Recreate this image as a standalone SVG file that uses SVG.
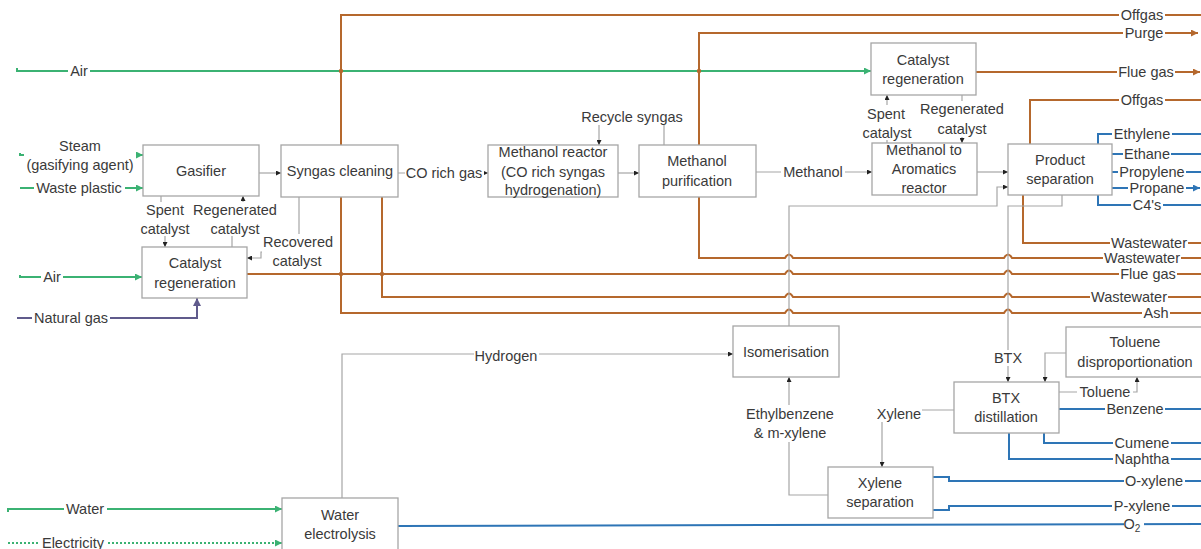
<svg xmlns="http://www.w3.org/2000/svg" width="1201" height="549" viewBox="0 0 1201 549">
<style>
text{font-family:"Liberation Sans",Arial,sans-serif;font-size:14.5px;fill:#3a3a3a;text-anchor:middle}
.nd rect{fill:#fff;stroke:#a6a6a6;stroke-width:1.3}
.g{fill:none;stroke:#a6a6a6;stroke-width:1.2}
.br{fill:none;stroke:#b5682d;stroke-width:2}
.gr{fill:none;stroke:#3bb273;stroke-width:2}
.bl{fill:none;stroke:#2e75b6;stroke-width:2}
.pu{fill:none;stroke:#605b8c;stroke-width:2}
.bg{fill:#fff}
</style>
<defs>
<marker id="ak" viewBox="0 0 6 6" refX="6" refY="3" markerWidth="5" markerHeight="5" markerUnits="userSpaceOnUse" orient="auto"><path d="M0,0L6,3L0,6z" fill="#222"/></marker>
<marker id="ag" viewBox="0 0 6 6" refX="6" refY="3" markerWidth="7" markerHeight="7" markerUnits="userSpaceOnUse" orient="auto"><path d="M0,0L6,3L0,6z" fill="#3bb273"/></marker>
<marker id="ab" viewBox="0 0 6 6" refX="6" refY="3" markerWidth="7" markerHeight="7" markerUnits="userSpaceOnUse" orient="auto"><path d="M0,0L6,3L0,6z" fill="#b5682d"/></marker>
<marker id="abl" viewBox="0 0 6 6" refX="6" refY="3" markerWidth="7" markerHeight="7" markerUnits="userSpaceOnUse" orient="auto"><path d="M0,0L6,3L0,6z" fill="#2e75b6"/></marker>
<marker id="ap" viewBox="0 0 6 6" refX="6" refY="3" markerWidth="8" markerHeight="8" markerUnits="userSpaceOnUse" orient="auto"><path d="M0,0L6,3L0,6z" fill="#605b8c"/></marker>
</defs>
<rect width="1201" height="549" fill="#fff"/>
<g id="connectors">
<!-- brown -->
<path class="br" d="M341,145V15H1201"/>
<path class="br" d="M341,197V313H785q4,-7 8,0H1004q4,-7 8,0H1201"/>
<path class="br" d="M382,197V297H785q4,-7 8,0H1004q4,-7 8,0H1201"/>
<path class="br" d="M247,274H785q4,-7 8,0H1004q4,-7 8,0H1201"/>
<path class="br" d="M699,145V33H1198" marker-end="url(#ab)"/>
<path class="br" d="M699,197V258H785q4,-7 8,0H1004q4,-7 8,0H1201"/>
<path class="br" d="M976,72H1200" marker-end="url(#ab)"/>
<path class="br" d="M1030,144V100H1201"/>
<path class="br" d="M1023,195V243H1201"/>
<!-- green -->
<path class="gr" d="M17,68V71H871" marker-end="url(#ag)"/>
<path class="gr" d="M20,153V155H143" marker-end="url(#ag)"/>
<path class="gr" d="M20,188H143" marker-end="url(#ag)"/>
<path class="gr" d="M20,275V277H142" marker-end="url(#ag)"/>
<path class="gr" d="M8,512V509H282" marker-end="url(#ag)"/>
<path class="gr" d="M8,543H282" stroke-dasharray="2,2" marker-end="url(#ag)"/>
<!-- purple -->
<path class="pu" d="M17,318H197V298" marker-end="url(#ap)"/>
<!-- blue -->
<path class="bl" d="M1201,134H1098V205H1201"/>
<path class="bl" d="M1112,154H1201"/>
<path class="bl" d="M1112,172H1201"/>
<path class="bl" d="M1112,188H1200" marker-end="url(#abl)"/>
<path class="bl" d="M1059,409H1201"/>
<path class="bl" d="M1044,433V443H1201"/>
<path class="bl" d="M1009,433V459H1201"/>
<path class="bl" d="M933,477H949V481H1201"/>
<path class="bl" d="M933,510H949V506H1201"/>
<path class="bl" d="M398,526L1201,524"/>
<!-- gray -->
<path class="g" d="M259,173H281" marker-end="url(#ak)"/>
<path class="g" d="M398,173H488" marker-end="url(#ak)"/>
<path class="g" d="M618,173H639" marker-end="url(#ak)"/>
<path class="g" d="M756,172H872" marker-end="url(#ak)"/>
<path class="g" d="M977,172H1008" marker-end="url(#ak)"/>
<path class="g" d="M664,145V117H599V145" marker-end="url(#ak)"/>
<path class="g" d="M161,196V220H165V247" marker-end="url(#ak)"/>
<path class="g" d="M232,247V220H243V196" marker-end="url(#ak)"/>
<path class="g" d="M299,197V252H261V258H247" marker-end="url(#ak)"/>
<path class="g" d="M887,143V95" marker-end="url(#ak)"/>
<path class="g" d="M962,95V143" marker-end="url(#ak)"/>
<path class="g" d="M342,498V354H733" marker-end="url(#ak)"/>
<path class="g" d="M789,326V206H997V187H1008" marker-end="url(#ak)"/>
<path class="g" d="M1062,195V206H1008V382" marker-end="url(#ak)"/>
<path class="g" d="M1066,353H1045V382" marker-end="url(#ak)"/>
<path class="g" d="M1059,392H1137V377" marker-end="url(#ak)"/>
<path class="g" d="M954,410H882V467" marker-end="url(#ak)"/>
<path class="g" d="M828,495H789V377" marker-end="url(#ak)"/>
<!-- junction dots -->
<g fill="#b5682d">
<circle cx="341" cy="71" r="2.2"/><circle cx="699" cy="71" r="2.2"/>
<circle cx="341" cy="274" r="2.2"/><circle cx="382" cy="274" r="2.2"/>
</g>
<!-- label backgrounds -->
<g class="bg">
<rect x="1119" y="8" width="46" height="14"/>
<rect x="1123" y="26" width="42" height="14"/>
<rect x="1117" y="65" width="58" height="14"/>
<rect x="1119" y="93" width="46" height="14"/>
<rect x="1112" y="127" width="60" height="14"/>
<rect x="1123" y="147" width="48" height="14"/>
<rect x="1118" y="165" width="68" height="14"/>
<rect x="1128" y="181" width="58" height="14"/>
<rect x="1131" y="198" width="32" height="14"/>
<rect x="1110" y="236" width="78" height="14"/>
<rect x="1103" y="251" width="78" height="14"/>
<rect x="1119" y="267" width="58" height="14"/>
<rect x="1090" y="290" width="78" height="14"/>
<rect x="1142" y="306" width="28" height="14"/>
<rect x="1105" y="402" width="60" height="14"/>
<rect x="1113" y="436" width="58" height="14"/>
<rect x="1113" y="452" width="58" height="14"/>
<rect x="1124" y="474" width="61" height="14"/>
<rect x="1112" y="499" width="60" height="14"/>
<rect x="1124" y="516" width="20" height="16"/>
<rect x="1077" y="385" width="56" height="14"/>
<rect x="68" y="64" width="22" height="14"/>
<rect x="24" y="138" width="112" height="35"/>
<rect x="34" y="181" width="91" height="14"/>
<rect x="41" y="270" width="22" height="14"/>
<rect x="32" y="311" width="78" height="14"/>
<rect x="64" y="502" width="43" height="14"/>
<rect x="40" y="536" width="66" height="14"/>
<rect x="405" y="166" width="79" height="14"/>
<rect x="781" y="165" width="64" height="14"/>
<rect x="582" y="109" width="101" height="16"/>
<rect x="474" y="348" width="65" height="16"/>
<rect x="993" y="350" width="30" height="16"/>
<rect x="876" y="405" width="46" height="17"/>
<rect x="746" y="405" width="88" height="37"/>
<rect x="137" y="202" width="56" height="34"/>
<rect x="192" y="202" width="87" height="34"/>
<rect x="262" y="234" width="72" height="34"/>
<rect x="860" y="105" width="54" height="35"/>
<rect x="918" y="101" width="88" height="36"/>
</g>
<!-- connector labels -->
<text x="1142" y="20">Offgas</text>
<text x="1144" y="38">Purge</text>
<text x="1146" y="77">Flue gas</text>
<text x="1142" y="105">Offgas</text>
<text x="1142" y="139">Ethylene</text>
<text x="1147" y="159">Ethane</text>
<text x="1152" y="177">Propylene</text>
<text x="1157" y="193">Propane</text>
<text x="1147" y="210">C4's</text>
<text x="1149" y="248">Wastewater</text>
<text x="1142" y="263">Wastewater</text>
<text x="1148" y="279">Flue gas</text>
<text x="1129" y="302">Wastewater</text>
<text x="1156" y="318">Ash</text>
<text x="1135" y="414">Benzene</text>
<text x="1142" y="448">Cumene</text>
<text x="1142" y="464">Naphtha</text>
<text x="1154" y="486">O-xylene</text>
<text x="1142" y="511">P-xylene</text>
<text x="1132" y="529">O<tspan font-size="10" dy="3">2</tspan></text>
<text x="1105" y="397">Toluene</text>
<text x="79" y="76">Air</text>
<text x="80" y="151">Steam</text>
<text x="80" y="170">(gasifying agent)</text>
<text x="79" y="193">Waste plastic</text>
<text x="52" y="282">Air</text>
<text x="71" y="323">Natural gas</text>
<text x="85" y="514">Water</text>
<text x="73" y="548">Electricity</text>
<text x="444" y="178">CO rich gas</text>
<text x="813" y="177">Methanol</text>
<text x="632" y="122">Recycle syngas</text>
<text x="506" y="361">Hydrogen</text>
<text x="1008" y="363">BTX</text>
<text x="899" y="419">Xylene</text>
<text x="790" y="419">Ethylbenzene</text>
<text x="790" y="438">&amp; m-xylene</text>
<text x="165" y="215">Spent</text>
<text x="165" y="234">catalyst</text>
<text x="235" y="215">Regenerated</text>
<text x="235" y="234">catalyst</text>
<text x="298" y="247">Recovered</text>
<text x="297" y="266">catalyst</text>
<text x="886" y="119">Spent</text>
<text x="887" y="138">catalyst</text>
<text x="962" y="114">Regenerated</text>
<text x="962" y="134">catalyst</text>
</g>
<g id="gasifier" class="nd"><rect x="143" y="145" width="116" height="51"/><text x="201" y="176">Gasifier</text></g>
<g id="syngas-cleaning" class="nd"><rect x="281" y="145" width="117" height="52"/><text x="340" y="176">Syngas cleaning</text></g>
<g id="catalyst-regeneration-1" class="nd"><rect x="142" y="247" width="105" height="51"/><text x="195" y="268">Catalyst</text><text x="195" y="288">regeneration</text></g>
<g id="methanol-reactor" class="nd"><rect x="488" y="145" width="130" height="52"/><text x="553" y="157">Methanol reactor</text><text x="553" y="177">(CO rich syngas</text><text x="553" y="195">hydrogenation)</text></g>
<g id="methanol-purification" class="nd"><rect x="639" y="145" width="117" height="52"/><text x="697" y="166">Methanol</text><text x="697" y="186">purification</text></g>
<g id="catalyst-regeneration-2" class="nd"><rect x="871" y="43" width="105" height="52"/><text x="923" y="65">Catalyst</text><text x="923" y="84">regeneration</text></g>
<g id="methanol-to-aromatics" class="nd"><rect x="872" y="143" width="105" height="52"/><text x="924" y="155">Methanol to</text><text x="924" y="174">Aromatics</text><text x="924" y="193">reactor</text></g>
<g id="product-separation" class="nd"><rect x="1008" y="144" width="104" height="51"/><text x="1060" y="165">Product</text><text x="1060" y="184">separation</text></g>
<g id="isomerisation" class="nd"><rect x="733" y="326" width="106" height="51"/><text x="786" y="357">Isomerisation</text></g>
<g id="toluene-disproportionation" class="nd"><rect x="1066" y="327" width="150" height="50"/><text x="1135" y="347">Toluene</text><text x="1135" y="367">disproportionation</text></g>
<g id="btx-distillation" class="nd"><rect x="954" y="382" width="105" height="51"/><text x="1006" y="403">BTX</text><text x="1006" y="422">distillation</text></g>
<g id="xylene-separation" class="nd"><rect x="828" y="467" width="105" height="51"/><text x="880" y="488">Xylene</text><text x="880" y="507">separation</text></g>
<g id="water-electrolysis" class="nd"><rect x="282" y="498" width="116" height="60"/><text x="340" y="520">Water</text><text x="340" y="539">electrolysis</text></g>
</svg>
